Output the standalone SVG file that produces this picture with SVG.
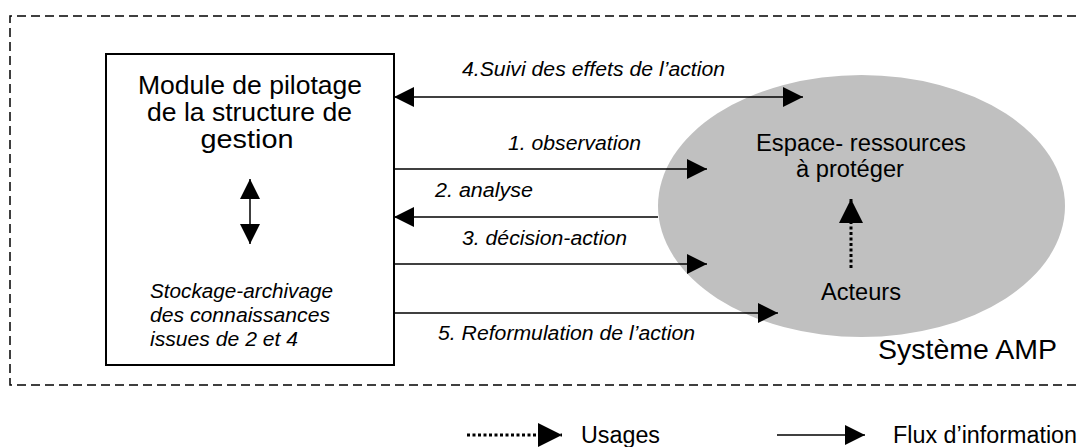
<svg xmlns="http://www.w3.org/2000/svg" width="1079" height="447" viewBox="0 0 1079 447">
<defs>
<style>
.t{font-family:"Liberation Sans",Arial,sans-serif;fill:#000}
.i{font-style:italic;font-size:20px}
.big{font-size:25px}
.mid{font-size:23px}
.ln{stroke:#000;stroke-width:1.5;fill:none}
.dot{stroke:#000;stroke-width:3;fill:none;stroke-dasharray:3,2.5}
</style>
<marker id="ah" viewBox="0 0 20 20" refX="20" refY="10" markerWidth="20" markerHeight="20" markerUnits="userSpaceOnUse" orient="auto-start-reverse"><path d="M0,0 L20,10 L0,20 z" fill="#000"/></marker>
<marker id="ahb" viewBox="0 0 24 24" refX="24" refY="12" markerWidth="24" markerHeight="24" markerUnits="userSpaceOnUse" orient="auto-start-reverse"><path d="M0,0 L24,12 L0,24 z" fill="#000"/></marker>
</defs>
<rect width="1079" height="447" fill="#fff"/>
<g id="systeme-amp">
<path d="M1090,16 H10 V385 H1090" fill="none" stroke="#000" stroke-width="1.5" stroke-dasharray="9,5"/>
<text class="t" x="878" y="359" font-size="28" textLength="179" lengthAdjust="spacingAndGlyphs">Système AMP</text>
</g>
<g id="espace-ressources">
<ellipse cx="861.5" cy="206" rx="203.5" ry="131" fill="#c0c0c0"/>
<text class="t mid" x="756" y="151" textLength="210" lengthAdjust="spacingAndGlyphs">Espace- ressources</text>
<text class="t mid" x="796" y="177" textLength="108" lengthAdjust="spacingAndGlyphs">à protéger</text>
</g>
<g id="acteurs">
<text class="t mid" x="821" y="300" textLength="80" lengthAdjust="spacingAndGlyphs">Acteurs</text>
</g>
<g id="module-pilotage">
<rect x="106" y="54" width="288" height="311" fill="#fff" stroke="#000" stroke-width="2"/>
<text class="t big" text-anchor="middle" x="250" y="94" textLength="224" lengthAdjust="spacingAndGlyphs">Module de pilotage</text>
<text class="t big" text-anchor="middle" x="249.5" y="121" textLength="205" lengthAdjust="spacingAndGlyphs">de la structure de</text>
<text class="t big" text-anchor="middle" x="247" y="148" textLength="93" lengthAdjust="spacingAndGlyphs">gestion</text>
<text class="t i" x="150" y="298" textLength="183" lengthAdjust="spacingAndGlyphs">Stockage-archivage</text>
<text class="t i" x="150" y="322" textLength="180" lengthAdjust="spacingAndGlyphs">des connaissances</text>
<text class="t i" x="150" y="346" textLength="148" lengthAdjust="spacingAndGlyphs">issues de 2 et 4</text>
</g>
<g id="connectors">
<line class="ln" x1="250" y1="179" x2="250" y2="244" marker-start="url(#ah)" marker-end="url(#ah)"/>
<line class="ln" x1="394" y1="97" x2="803" y2="97" marker-start="url(#ah)" marker-end="url(#ah)"/>
<line class="ln" x1="394" y1="169" x2="707" y2="169" marker-end="url(#ah)"/>
<line class="ln" x1="658" y1="217" x2="394" y2="217" marker-end="url(#ah)"/>
<line class="ln" x1="394" y1="264" x2="707" y2="264" marker-end="url(#ah)"/>
<line class="ln" x1="394" y1="313" x2="778" y2="313" marker-end="url(#ah)"/>
<line class="dot" x1="851" y1="268" x2="851" y2="199" marker-end="url(#ahb)"/>
<text class="t i" x="462" y="76" textLength="263" lengthAdjust="spacingAndGlyphs">4.Suivi des effets de l’action</text>
<text class="t i" x="508" y="150" textLength="133" lengthAdjust="spacingAndGlyphs">1. observation</text>
<text class="t i" x="435" y="197" textLength="98" lengthAdjust="spacingAndGlyphs">2. analyse</text>
<text class="t i" x="462" y="245" textLength="165" lengthAdjust="spacingAndGlyphs">3. décision-action</text>
<text class="t i" x="438" y="340" textLength="257" lengthAdjust="spacingAndGlyphs">5. Reformulation de l’action</text>
</g>
<g id="legend">
<line class="dot" x1="467" y1="435" x2="562" y2="435" marker-end="url(#ahb)"/>
<text class="t mid" x="581" y="443" textLength="79" lengthAdjust="spacingAndGlyphs">Usages</text>
<line class="ln" x1="777" y1="435" x2="865" y2="435" marker-end="url(#ah)"/>
<text class="t mid" x="893" y="443" textLength="184" lengthAdjust="spacingAndGlyphs">Flux d’information</text>
</g>
</svg>
